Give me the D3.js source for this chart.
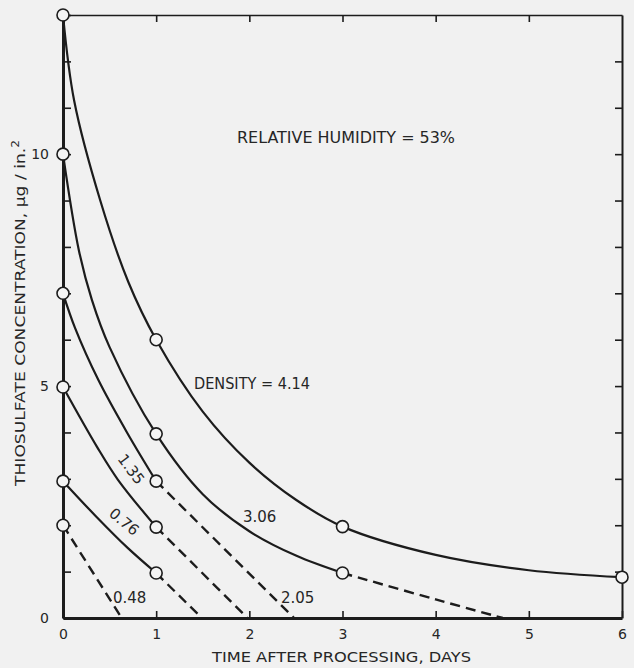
<!DOCTYPE html>
<html>
<head>
<meta charset="utf-8">
<script src="https://cdn.jsdelivr.net/npm/d3@7"></script>
<style>
  html, body { margin: 0; padding: 0; background: #f1f1f1; }
  svg { display: block; }
  text { font-family: "DejaVu Sans", sans-serif; fill: #262626; }
</style>
</head>
<body>
<svg id="chart" width="634" height="668"></svg>
<script>
// ---- data ----
const xTicks = [0, 1, 2, 3, 4, 5, 6];
const yTicks = [0, 1, 2, 3, 4, 5, 6, 7, 8, 9, 10, 11, 12, 13];
const yLabels = [0, 5, 10];

// density 4.14 (solid all the way)
const solid414 = [[0,13],[0.12,11.15],[0.4,9.0],[0.7,7.25],[1,6],[1.5,4.45],[2,3.35],[2.5,2.55],[3,1.97],[4,1.36],[5,1.03],[6,0.88]];
// density 3.06
const solid306 = [[0,10],[0.17,7.93],[0.31,6.86],[0.5,5.84],[1,3.97],[1.5,2.67],[2,1.87],[2.5,1.345],[3,0.97]];
const dash306  = [[3,0.97],[4,0.4],[4.72,0]];
// density 2.05
const solid205 = [[0,7],[0.13,6.25],[0.38,5.13],[0.69,3.99],[1,2.95]];
const dash205  = [[1,2.95],[2.48,0]];
// density 1.35
const solid135 = [[0,4.98],[0.365,3.69],[0.59,2.98],[1,1.96]];
const dash135  = [[1,1.96],[1.98,0]];
// density 0.76
const solid076 = [[0,2.95],[0.35,2.2],[0.7,1.5],[1,0.97]];
const dash076  = [[1,0.97],[1.49,0]];
// density 0.48 (dashed only)
const dash048  = [[0,2],[0.63,0]];

const circles = [[0,13],[1,6],[3,1.97],[6,0.88],
                 [0,10],[1,3.97],[3,0.97],
                 [0,7],[1,2.95],
                 [0,4.98],[1,1.96],
                 [0,2.95],[1,0.97],
                 [0,2]];

const solidSeries = [solid414, solid306, solid205, solid135, solid076];
const dashSeries  = [dash306, dash205, dash135, dash076, dash048];

// ---- layout ----
const svg = d3.select("#chart");
const ink = "#1c1c1c";
const x = d3.scaleLinear().domain([0, 6]).range([63, 622]);
const y = d3.scaleLinear().domain([0, 13]).range([618, 15]);

const line = d3.line().x(d => x(d[0])).y(d => y(d[1])).curve(d3.curveCatmullRom.alpha(0.5));

function styleAxis(g, w) {
  g.select(".domain").attr("stroke", ink).attr("stroke-width", w);
  g.selectAll(".tick line").attr("stroke", ink).attr("stroke-width", 1.6);
  g.selectAll(".tick text").attr("fill", "#262626").style("font-size", "14px")
    .style("font-family", "'DejaVu Sans', sans-serif");
}

svg.append("g").attr("transform", `translate(0,${y(13)})`)
  .call(d3.axisTop(x).tickValues(xTicks.slice(1, 6)).tickSize(-7).tickSizeOuter(0).tickFormat(""))
  .call(g => styleAxis(g, 1.6));

svg.append("g").attr("transform", `translate(${x(6)},0)`)
  .call(d3.axisRight(y).tickValues(yTicks.slice(1, 13)).tickSize(-7).tickSizeOuter(0).tickFormat(""))
  .call(g => styleAxis(g, 2));

svg.append("g").attr("transform", `translate(0,${y(0)})`)
  .call(d3.axisBottom(x).tickValues(xTicks).tickSize(-7).tickSizeOuter(0).tickPadding(11)
        .tickFormat(d3.format("d")))
  .call(g => styleAxis(g, 3));

svg.append("g").attr("transform", `translate(${x(0)},0)`)
  .call(d3.axisLeft(y).tickValues(yTicks).tickSize(-8).tickSizeOuter(0).tickPadding(14)
        .tickFormat(d => yLabels.includes(d) ? d : ""))
  .call(g => styleAxis(g, 3));

// curves
svg.append("g").selectAll("path.solid").data(solidSeries).join("path")
  .attr("class", "solid")
  .attr("d", line).attr("fill", "none").attr("stroke", ink).attr("stroke-width", 2.2);

svg.append("g").selectAll("path.dash").data(dashSeries).join("path")
  .attr("class", "dash")
  .attr("d", line).attr("fill", "none").attr("stroke", ink).attr("stroke-width", 2.4)
  .attr("stroke-dasharray", "10,6");

// circles
svg.append("g").selectAll("circle").data(circles).join("circle")
  .attr("cx", d => x(d[0])).attr("cy", d => y(d[1])).attr("r", 6)
  .attr("fill", "#f4f4f4").attr("stroke", ink).attr("stroke-width", 1.6);

// annotations
const ann = svg.append("g").style("font-size", "15px");
ann.append("text").attr("x", 237).attr("y", 143).attr("textLength", 218)
  .attr("lengthAdjust", "spacingAndGlyphs").text("RELATIVE HUMIDITY = 53%");
ann.append("text").attr("x", 194).attr("y", 389).attr("textLength", 116)
  .attr("lengthAdjust", "spacingAndGlyphs").text("DENSITY = 4.14");
ann.append("text").attr("x", 243).attr("y", 522).text("3.06");
ann.append("text").attr("x", 281).attr("y", 603).text("2.05");
ann.append("text").attr("x", 113).attr("y", 603).text("0.48");
ann.append("text").attr("transform", "translate(117,459) rotate(53)").text("1.35");
ann.append("text").attr("transform", "translate(108,515) rotate(40)").text("0.76");

// axis titles
svg.append("text").attr("x", 212).attr("y", 662).attr("textLength", 259)
  .attr("lengthAdjust", "spacingAndGlyphs").style("font-size", "14px")
  .text("TIME AFTER PROCESSING, DAYS");

const yt = svg.append("text").attr("transform", "translate(25,486) rotate(-90)")
  .attr("textLength", 346).attr("lengthAdjust", "spacingAndGlyphs").style("font-size", "14px");
yt.append("tspan").text("THIOSULFATE  CONCENTRATION, μg / in.");
yt.append("tspan").attr("dy", -6).style("font-size", "10px").text("2");
</script>
</body>
</html>
